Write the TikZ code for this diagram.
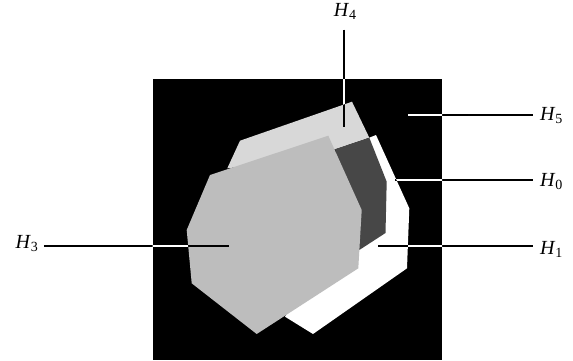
\documentclass[tikz,border=0pt]{standalone}
\usepackage{fontspec}
\setmainfont{Liberation Serif}
\definecolor{lightg}{HTML}{D8D8D8}
\definecolor{midg}{HTML}{BDBDBD}
\definecolor{darkg}{HTML}{474747}
\newcommand\hsub[1]{\textit{H}\raisebox{-3pt}{\fontsize{14}{14}\selectfont #1}}
\tikzset{
  lbl/.style={inner sep=0pt, outer sep=0pt, font=\fontsize{20}{22}\selectfont},
  ln/.style={line width=1.8pt},
}
\newcommand\hlines[1]{%
  \draw[ln,#1,shorten <=10pt] (p4 |- h4.south) -- (p4);
  \draw[ln,#1,shorten <=7.3pt] (h5.west |- p5) -- (p5);
  \draw[ln,#1,shorten <=7.3pt] (h0.west |- p0) -- (p0);
  \draw[ln,#1,shorten <=7.3pt] (h1.west |- p1) -- (p1);
  \draw[ln,#1,shorten <=5.8pt] (h3.east |- p3) -- (p3);
}
\begin{document}
\begin{tikzpicture}[x=1pt,y=-1pt]
\useasboundingbox (0,0) rectangle (573,360);
% black frame
\fill[black] (152.5,79) rectangle (442,360);
% shapes
\def\pathwhite{(369.3,137.7) -- (376,135) -- (409.3,208.3) -- (407,268.3) -- (313,334) -- (285,316.7) -- (350,203.3) -- cycle}
\def\pathlight{(227.3,168.3) -- (240,140.7) -- (352,101.7) -- (369.3,137.7) -- (335,149.3) -- (300,160) -- cycle}
\def\pathdark{(335,149.3) -- (369.3,137.7) -- (386.7,181.7) -- (385.5,233) -- (359.3,250) -- (350,203.3) -- cycle}
\def\pathmid{(210,175) -- (328.3,135.7) -- (361.7,210) -- (358.3,268.3) -- (256.7,334) -- (191.7,283.3) -- (186.7,230) -- cycle}
\fill[white] \pathwhite;
\fill[lightg] \pathlight;
\fill[darkg] \pathdark;
\fill[midg] \pathmid;
% labels
\node[lbl, anchor=base] (h4) at (345,16.7) {\hsub{4}};
\node[lbl, anchor=base west] (h5) at (540,120) {\hsub{5}};
\node[lbl, anchor=base west] (h0) at (540,186.7) {\hsub{0}};
\node[lbl, anchor=base west] (h1) at (540,254.3) {\hsub{1}};
\node[lbl, anchor=base east] (h3) at (38,248) {\hsub{3}};
\coordinate (p4) at (344,126.7);
\coordinate (p5) at (407.7,115);
\coordinate (p0) at (395,180);
\coordinate (p1) at (378.3,245.6);
\coordinate (p3) at (229.3,245.6);
% leader lines, contrasting with what lies beneath
\hlines{black}
\begin{scope}
  \clip (152.5,79) rectangle (442,360);
  \hlines{white}
\end{scope}
\begin{scope}\clip \pathwhite; \hlines{black}\end{scope}
\begin{scope}\clip \pathlight; \hlines{black}\end{scope}
\begin{scope}\clip \pathdark; \hlines{black}\end{scope}
\begin{scope}\clip \pathmid; \hlines{black}\end{scope}
\end{tikzpicture}
\end{document}
